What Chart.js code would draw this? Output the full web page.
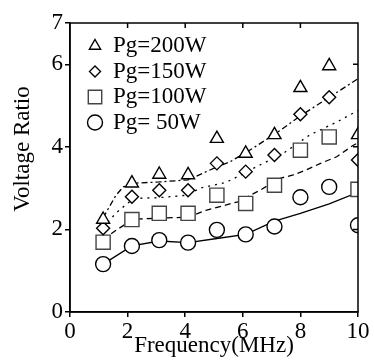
<!DOCTYPE html>
<html>
<head>
<meta charset="utf-8">
<script src="https://cdn.jsdelivr.net/npm/chart.js@4.4.1/dist/chart.umd.min.js"></script>
<style>
  html, body { margin: 0; padding: 0; background: #fff; }
  #wrap { width: 374px; height: 360px; }
</style>
</head>
<body>
<div id="wrap"><canvas id="chart"></canvas></div>
<script>
// measured points (MHz)
const freq = [1.15, 2.15, 3.1, 4.1, 5.1, 6.1, 7.1, 8.0, 9.0, 10.0];
const ratio200 = [2.24, 3.12, 3.33, 3.32, 4.2, 3.84, 4.29, 5.43, 5.96, 4.29];
const ratio150 = [2.03, 2.79, 2.95, 2.95, 3.6, 3.4, 3.8, 4.79, 5.2, 3.68];
const ratio100 = [1.69, 2.24, 2.39, 2.39, 2.83, 2.63, 3.07, 3.92, 4.24, 2.97];
const ratio50  = [1.16, 1.6, 1.74, 1.68, 1.99, 1.88, 2.07, 2.78, 3.03, 2.1];

// fitted curves
const fit200X = [1.15, 1.4, 1.6, 1.85, 2.2, 3.1, 4.1, 4.86, 5.56, 6.36, 7.3, 8.0, 9.0, 10];
const fit200Y = [2.28, 2.59, 2.83, 3.03, 3.12, 3.15, 3.2, 3.44, 3.64, 3.97, 4.4, 4.75, 5.2, 5.65];
const fit150X = [1.15, 1.6, 2.2, 3.1, 4.1, 4.5, 5.3, 5.6, 6.48, 7.4, 8.33, 9.26, 10];
const fit150Y = [2.05, 2.4, 2.75, 2.77, 2.83, 3.0, 3.12, 3.2, 3.52, 3.84, 4.29, 4.6, 4.88];
const fit100X = [1.15, 1.6, 2.2, 3.1, 4.1, 4.75, 5.3, 5.83, 6.6, 7.3, 7.75, 8.2, 8.7, 9.26, 9.84, 10];
const fit100Y = [1.75, 1.98, 2.25, 2.27, 2.3, 2.47, 2.57, 2.67, 2.95, 3.24, 3.32, 3.44, 3.6, 3.76, 4.04, 4.1];
const fit50X  = [1.15, 2.15, 3.1, 4.1, 5.1, 6.1, 7.1, 8.0, 9.0, 10];
const fit50Y  = [1.16, 1.6, 1.72, 1.68, 1.78, 1.88, 2.2, 2.39, 2.62, 2.9];

const seriesLabels = ['Pg=200W', 'Pg=150W', 'Pg=100W', 'Pg= 50W'];
const yTicks = [0, 2, 4, 6, 7];

const SERIF = '"Liberation Serif", "DejaVu Serif", serif';
const pts = (xs, ys) => xs.map((x, i) => ({ x, y: ys[i] }));

function markers(label, ys, style, radius, legendRadius, color) {
  return {
    label, data: pts(freq, ys), showLine: false,
    pointStyle: style, pointRadius: radius, pointHoverRadius: radius,
    borderColor: color, backgroundColor: '#fff', pointBorderWidth: 1.4, borderWidth: 1.4,
    legendRadius,
  };
}
function fitLine(xs, ys, dash) {
  return {
    label: '', data: pts(xs, ys), showLine: true, pointRadius: 0,
    borderColor: '#000', borderWidth: 1.3, borderDash: dash, fill: false, tension: 0,
  };
}

// legend drawn inside the plot, top-left
const insideLegend = {
  id: 'insideLegend',
  afterDatasetsDraw(chart) {
    const { ctx, chartArea } = chart;
    ctx.save();
    chart.data.datasets.filter(d => d.legendRadius).forEach((ds, i) => {
      const y = chartArea.top + 23 + i * 25.5;
      ctx.strokeStyle = ds.borderColor;
      ctx.fillStyle = '#fff';
      ctx.lineWidth = 1.4;
      Chart.helpers.drawPoint(ctx, { pointStyle: ds.pointStyle, radius: ds.legendRadius, rotation: 0, borderWidth: 1.4 }, chartArea.left + 25, y);
      ctx.fillStyle = '#000';
      ctx.font = '23px ' + SERIF;
      ctx.textBaseline = 'middle';
      ctx.fillText(ds.label, chartArea.left + 43, y);
    });
    ctx.restore();
  }
};

// closed frame with inward ticks on top/right, plus y title
const frame = {
  id: 'frame',
  afterDraw(chart) {
    const { ctx, chartArea: a, scales } = chart;
    ctx.save();
    ctx.strokeStyle = '#000';
    ctx.lineWidth = 1.5;
    ctx.strokeRect(a.left, a.top, a.right - a.left, a.bottom - a.top);
    ctx.beginPath();
    scales.x.ticks.forEach(t => {
      if (t.value <= 0 || t.value >= 10) return;
      const px = scales.x.getPixelForValue(t.value);
      ctx.moveTo(px, a.top); ctx.lineTo(px, a.top + 5);
    });
    scales.y.ticks.forEach(t => {
      if (t.value <= 0 || t.value >= 7) return;
      const py = scales.y.getPixelForValue(t.value);
      ctx.moveTo(a.right, py); ctx.lineTo(a.right - 5, py);
    });
    ctx.stroke();
    ctx.translate(23, 149);
    ctx.rotate(-Math.PI / 2);
    ctx.fillStyle = '#000';
    ctx.font = '23px ' + SERIF;
    ctx.textAlign = 'center';
    ctx.textBaseline = 'middle';
    ctx.fillText('Voltage Ratio', 0, 0);
    ctx.restore();
  }
};

new Chart(document.getElementById('chart'), {
  type: 'scatter',
  data: {
    datasets: [
      markers(seriesLabels[0], ratio200, 'triangle', 7.5, 6.5, '#000'),
      markers(seriesLabels[1], ratio150, 'rectRot', 6.5, 5.5, '#000'),
      markers(seriesLabels[2], ratio100, 'rect', 10, 9.5, '#444'),
      markers(seriesLabels[3], ratio50, 'circle', 7.5, 7.5, '#000'),
      fitLine(fit200X, fit200Y, [6, 3, 2, 3]),
      fitLine(fit150X, fit150Y, [2, 5]),
      fitLine(fit100X, fit100Y, [6, 4]),
      fitLine(fit50X, fit50Y, []),
    ],
  },
  options: {
    responsive: true,
    maintainAspectRatio: false,
    animation: false,
    devicePixelRatio: 1,
    layout: { padding: { top: 23, right: 16, left: 0, bottom: 0 } },
    plugins: { legend: { display: false }, tooltip: { enabled: false } },
    scales: {
      x: {
        type: 'linear', min: 0, max: 10,
        afterFit: s => { s.height = 48; },
        border: { color: '#000', width: 1.5 },
        grid: { drawOnChartArea: false, drawTicks: true, tickLength: 5, color: '#000', lineWidth: 1.5 },
        ticks: { stepSize: 2, color: '#000', padding: 1, maxRotation: 0, font: { family: SERIF, size: 23 } },
        title: { display: true, text: 'Frequency(MHz)', color: '#000', padding: { top: 0, bottom: 0 }, font: { family: SERIF, size: 23 } },
      },
      y: {
        type: 'linear', min: 0, max: 7,
        afterFit: s => { s.width = 70; },
        afterBuildTicks: s => { s.ticks = yTicks.map(v => ({ value: v })); },
        border: { color: '#000', width: 1.5 },
        grid: { drawOnChartArea: false, drawTicks: true, tickLength: 5, color: '#000', lineWidth: 1.5 },
        ticks: { color: '#000', padding: 2, font: { family: SERIF, size: 23 } },
      },
    },
  },
  plugins: [insideLegend, frame],
});
</script>
</body>
</html>
